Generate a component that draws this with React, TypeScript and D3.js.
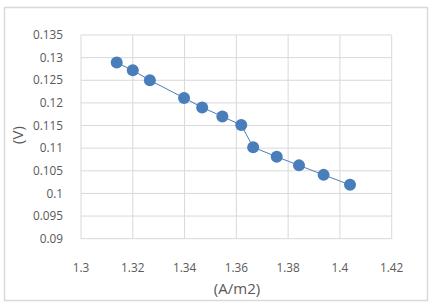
import React from "react";
import * as d3 from "d3";

const xValues = [1.3138, 1.3200, 1.3266, 1.3398, 1.3468, 1.3546, 1.3619, 1.3665, 1.3756, 1.3842, 1.3937, 1.4039];
const yValues = [0.1289, 0.1272, 0.1250, 0.1211, 0.1190, 0.1170, 0.1151, 0.1102, 0.1081, 0.1062, 0.1041, 0.1019];
const xTicks = [1.3, 1.32, 1.34, 1.36, 1.38, 1.4, 1.42];
const xTickLabels = ["1.3", "1.32", "1.34", "1.36", "1.38", "1.4", "1.42"];
const yTicks = [0.09, 0.095, 0.1, 0.105, 0.11, 0.115, 0.12, 0.125, 0.13, 0.135];
const yTickLabels = ["0.09", "0.095", "0.1", "0.105", "0.11", "0.115", "0.12", "0.125", "0.13", "0.135"];
const xTitle = "(A/m2)";
const yTitle = "(V)";

export default function App() {
  const W = 436, H = 307;
  const left = 81, right = 391.7, top = 35, bottom = 238.7;
  const x = d3.scaleLinear().domain([1.3, 1.42]).range([left, right]);
  const y = d3.scaleLinear().domain([0.09, 0.135]).range([bottom, top]);
  const pts = xValues.map((v, i) => [v, yValues[i]] as [number, number]);
  const line = d3.line<[number, number]>().x(d => x(d[0])).y(d => y(d[1]));
  const font = "'Open Sans', 'Noto Sans', sans-serif";
  const grey = "#595959";
  return (
    <svg width={W} height={H} style={{ position: "absolute", left: 0, top: 0 }}>
      <rect x={0} y={0} width={W} height={H} fill="#fff" />
      <rect x={4.5} y={7.5} width={423} height={293} fill="#fff" stroke="#d9d9d9" strokeWidth={1.5} />
      {xTicks.map((t, i) => (
        <line key={"gx" + i} x1={x(t)} x2={x(t)} y1={top} y2={bottom} stroke="#d9d9d9" strokeWidth={1} />
      ))}
      {yTicks.map((t, i) => (
        <line key={"gy" + i} x1={left} x2={right} y1={y(t)} y2={y(t)} stroke="#d9d9d9" strokeWidth={1} />
      ))}
      {yTicks.map((t, i) => (
        <text key={"ty" + i} x={63} y={y(t)} dy="0.35em" textAnchor="end" fontFamily={font} fontSize={11.8} fill={grey}>
          {yTickLabels[i]}
        </text>
      ))}
      {xTicks.map((t, i) => (
        <text key={"tx" + i} x={x(t)} y={267.5} dy="0.35em" textAnchor="middle" fontFamily={font} fontSize={11.8} fill={grey}>
          {xTickLabels[i]}
        </text>
      ))}
      <text x={237} y={289} dy="0.35em" textAnchor="middle" fontFamily={font} fontSize={15} fill={grey}>{xTitle}</text>
      <text transform={`translate(18,135) rotate(-90)`} dy="0.35em" textAnchor="middle" fontFamily={font} fontSize={15} fill={grey}>{yTitle}</text>
      <path d={line(pts) || ""} fill="none" stroke="#4a7ebb" strokeWidth={1} />
      {pts.map((p, i) => (
        <circle key={"p" + i} cx={x(p[0])} cy={y(p[1])} r={6} fill="#4a7ebb" />
      ))}
    </svg>
  );
}
